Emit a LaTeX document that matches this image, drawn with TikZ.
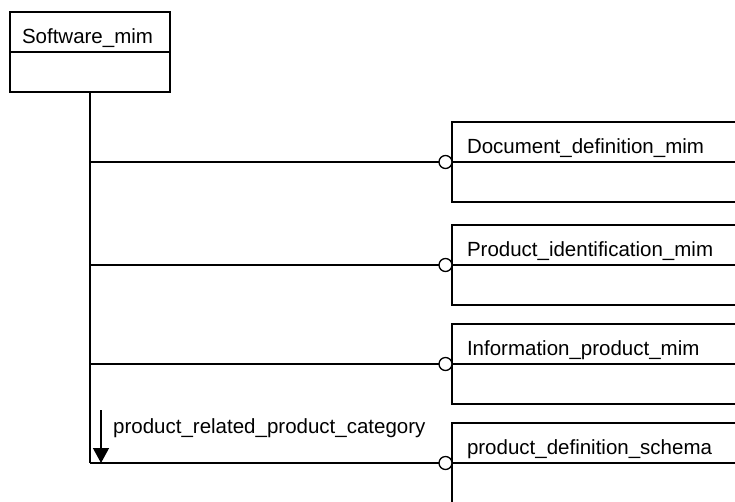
\documentclass[tikz,border=0pt]{standalone}
\usepackage{fontspec}
\setmainfont{Liberation Sans}
\usetikzlibrary{positioning,arrows.meta}

\begin{document}
\begin{tikzpicture}[x=1pt, y=-1pt, font=\fontsize{20.5}{24}\selectfont,
    box/.style={draw, line width=1.3pt, outer sep=0pt, inner sep=0pt, minimum height=40pt},
    head/.style={box, text height=22pt, text depth=0pt, align=left},
    link/.style={line width=1.3pt},
    ring/.style={circle, draw, line width=1.3pt, fill=white, minimum size=13pt, inner sep=0pt, outer sep=0pt}]
    \clip (0,0) rectangle (735,501);
    % left entity
    \node[head, inner xsep=12pt, text width=136pt, minimum width=160pt, anchor=north west] at (10,12) (swhead) {Software\_mim};
    \node[box, minimum width=160pt, below=0pt of swhead] (swbody) {};
    % right entities
    \node[head, inner xsep=15pt, text width=285pt, minimum width=315pt, anchor=south west] at (452,162) (docdef) {Document\_definition\_mim};
    \node[box, minimum width=315pt, below=0pt of docdef] (docdefbody) {};
    \node[ring, left=0pt of docdef.south west] (docring) {};
    \node[head, inner xsep=15pt, text width=285pt, minimum width=315pt, anchor=south west] at (452,265) (prodid) {Product\_identification\_mim};
    \node[box, minimum width=315pt, below=0pt of prodid] (prodidbody) {};
    \node[ring, left=0pt of prodid.south west] (prodidring) {};
    \node[head, inner xsep=15pt, text width=285pt, minimum width=315pt, anchor=south west] at (452,364) (infoprod) {Information\_product\_mim};
    \node[box, minimum width=315pt, below=0pt of infoprod] (infoprodbody) {};
    \node[ring, left=0pt of infoprod.south west] (infoprodring) {};
    \node[head, inner xsep=15pt, text width=285pt, minimum width=315pt, anchor=south west] at (452,463) (proddef) {product\_definition\_schema};
    \node[box, minimum width=315pt, below=0pt of proddef] (proddefbody) {};
    \node[ring, left=0pt of proddef.south west] (proddefring) {};
    % connectors
    \draw[link] (swbody.south) -- (swbody.south |- proddefring.west);
    \draw[link] (swbody.south |- docring.west) -- (docring);
    \draw[link] (swbody.south |- prodidring.west) -- (prodidring);
    \draw[link] (swbody.south |- infoprodring.west) -- (infoprodring);
    \draw[link] (swbody.south |- proddefring.west) -- (proddefring);
    % reference direction
    \node[anchor=base west, inner sep=0pt] at (113,433) (catlabel) {product\_related\_product\_category};
    \coordinate (cattop) at (101,410);
    \draw[link, -{Triangle[length=15pt, width=16pt]}] (cattop) -- (cattop |- proddefring.west);
\end{tikzpicture}
\end{document}
